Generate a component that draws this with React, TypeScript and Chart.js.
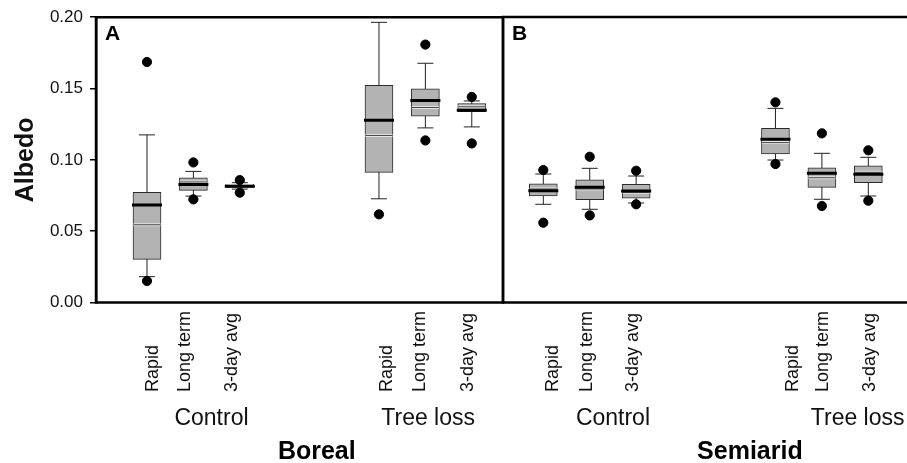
import React, { useEffect, useRef } from 'react';
import { Chart, registerables } from 'chart.js';

Chart.register(...registerables);

const FONT = '"Liberation Sans", Arial, Helvetica, sans-serif';

// ---------- categories & labels ----------
const methods = ['Rapid', 'Long term', '3-day avg'];
const treatments = ['Control', 'Tree loss'];
const sites = ['Boreal', 'Semiarid'];
const panelLetters = ['A', 'B'];
const yTitle = 'Albedo';
const yMin = 0;
const yMax = 0.2;
const yStep = 0.05;

// order of boxes in each panel: Control(Rapid, Long term, 3-day avg), Tree loss(Rapid, Long term, 3-day avg)
// ---------- Boreal (panel A) ----------
const borealOutlierLow = [0.0151, 0.0723, 0.0770, 0.0618, 0.1136, 0.1115];
const borealWhiskerLow = [0.0181, 0.0746, 0.0795, 0.0727, 0.1224, 0.1231];
const borealQ1 = [0.0302, 0.0786, 0.0806, 0.0912, 0.1306, 0.1338];
const borealMedian = [0.0683, 0.0828, 0.0815, 0.1278, 0.1416, 0.1347];
const borealMean = [0.0545, 0.0845, 0.0820, 0.1171, 0.1367, 0.1372];
const borealQ3 = [0.0772, 0.0874, 0.0828, 0.1523, 0.1497, 0.1395];
const borealWhiskerHigh = [0.1175, 0.0919, 0.0840, 0.1964, 0.1677, 0.1413];
const borealOutlierHigh = [0.1686, 0.0982, 0.0858, null, 0.1808, 0.1441];

// ---------- Semiarid (panel B) ----------
const semiaridOutlierLow = [0.0559, 0.0610, 0.0688, 0.0970, 0.0676, 0.0713];
const semiaridWhiskerLow = [0.0688, 0.0653, 0.0697, 0.0998, 0.0723, 0.0746];
const semiaridQ1 = [0.0746, 0.0720, 0.0730, 0.1040, 0.0807, 0.0839];
const semiaridMedian = [0.0783, 0.0807, 0.0781, 0.1143, 0.0905, 0.0898];
const semiaridMean = [0.0795, 0.0795, 0.0772, 0.1120, 0.0874, 0.0912];
const semiaridQ3 = [0.0832, 0.0860, 0.0828, 0.1220, 0.0944, 0.0958];
const semiaridWhiskerHigh = [0.0900, 0.0940, 0.0886, 0.1360, 0.1045, 0.1017];
const semiaridOutlierHigh = [0.0928, 0.1021, 0.0923, 0.1402, 0.1185, 0.1066];

type Stats = {
  oLow: (number | null)[];
  wLow: number[];
  q1: number[];
  med: number[];
  mean: number[];
  q3: number[];
  wHigh: number[];
  oHigh: (number | null)[];
};

const borealStats: Stats = {
  oLow: borealOutlierLow, wLow: borealWhiskerLow, q1: borealQ1, med: borealMedian,
  mean: borealMean, q3: borealQ3, wHigh: borealWhiskerHigh, oHigh: borealOutlierHigh,
};
const semiaridStats: Stats = {
  oLow: semiaridOutlierLow, wLow: semiaridWhiskerLow, q1: semiaridQ1, med: semiaridMedian,
  mean: semiaridMean, q3: semiaridQ3, wHigh: semiaridWhiskerHigh, oHigh: semiaridOutlierHigh,
};

// slot on the x axis for box i (two groups of three, two empty slots between groups)
const slotOf = (i: number) => Math.floor(i / methods.length) * (methods.length + 2) + (i % methods.length) + 1;

// ---------- layout (not data) ----------
const panelLayouts = [
  {
    canvasLeft: 0, width: 506, padLeft: 0, padRight: 3, xMin: -0.099, xMax: 8.673, showY: true, closed: true,
    tickAt: [1.13, 1.82, 2.83, 6.17, 6.89, 7.93], groupAt: [2.39, 7.06], siteAt: 4.66,
  },
  {
    canvasLeft: 490, width: 417, padLeft: 13, padRight: 0, xMin: 0.132, xMax: 8.833, showY: false, closed: false,
    tickAt: [1.22, 1.95, 2.94, 6.37, 7.03, 8.04], groupAt: [2.5, 7.77], siteAt: 5.45,
  },
];

const panelTextPlugin = {
  id: 'panelText',
  afterDraw(chart: any, _args: any, opts: any) {
    const { ctx, chartArea: ca, scales } = chart;
    const xs = scales.x;
    ctx.save();
    ctx.strokeStyle = '#000';
    ctx.lineWidth = 2.5;
    ctx.beginPath();
    if (opts.closed) {
      ctx.rect(ca.left, ca.top, ca.right - ca.left, ca.bottom - ca.top);
    } else {
      ctx.moveTo(ca.right + 5, ca.top);
      ctx.lineTo(ca.left, ca.top);
      ctx.lineTo(ca.left, ca.bottom);
      ctx.lineTo(ca.right + 5, ca.bottom);
    }
    ctx.stroke();

    ctx.fillStyle = '#000';
    ctx.font = `bold 21px ${FONT}`;
    ctx.textAlign = 'left';
    ctx.textBaseline = 'alphabetic';
    ctx.fillText(opts.letter, ca.left + 9, ca.top + 23);

    ctx.fillStyle = '#111';
    ctx.font = `18px ${FONT}`;
    opts.tickLabels.forEach((t: string, k: number) => {
      const px = xs.getPixelForValue(opts.tickAt[k]);
      ctx.save();
      ctx.translate(px, 392);
      ctx.rotate(-Math.PI / 2);
      ctx.textAlign = 'left';
      ctx.textBaseline = 'middle';
      ctx.fillText(t, 0, 0);
      ctx.restore();
    });

    ctx.font = `23px ${FONT}`;
    ctx.textAlign = 'center';
    ctx.textBaseline = 'alphabetic';
    opts.groupLabels.forEach((g: string, k: number) => {
      ctx.fillText(g, xs.getPixelForValue(opts.groupAt[k]), 425);
    });

    ctx.fillStyle = '#000';
    ctx.font = `bold 25px ${FONT}`;
    ctx.fillText(opts.site, xs.getPixelForValue(opts.siteAt), 459);
    ctx.restore();
  },
};

function makeDatasets(s: Stats) {
  const n = s.q1.length;
  const idx = Array.from({ length: n }, (_, i) => i);
  const whisker: any[] = [];
  idx.forEach((i) => {
    whisker.push({ x: slotOf(i), y: s.wLow[i] });
    whisker.push({ x: slotOf(i), y: s.wHigh[i] });
    whisker.push({ x: slotOf(i), y: null });
  });
  const caps: any[] = [];
  idx.forEach((i) => {
    caps.push({ x: slotOf(i), y: s.wLow[i] });
    caps.push({ x: slotOf(i), y: s.wHigh[i] });
  });
  const outliers: any[] = [];
  idx.forEach((i) => {
    if (s.oLow[i] != null) outliers.push({ x: slotOf(i), y: s.oLow[i] });
    if (s.oHigh[i] != null) outliers.push({ x: slotOf(i), y: s.oHigh[i] });
  });
  return [
    {
      type: 'scatter', label: 'whisker', data: whisker, showLine: true, spanGaps: false,
      borderColor: '#222', borderWidth: 1, pointRadius: 0, order: 10,
    },
    {
      type: 'bar', label: 'box', data: idx.map((i) => ({ x: slotOf(i), y: [s.q1[i], s.q3[i]] })),
      backgroundColor: '#b3b3b3', borderColor: '#2a2a2a', borderWidth: 1, borderSkipped: false,
      barThickness: 28, grouped: false, order: 9,
    },
    {
      type: 'scatter', label: 'caps', data: caps, pointStyle: 'line', pointRadius: 8,
      pointBorderColor: '#222', pointBorderWidth: 1, order: 8,
    },
    {
      type: 'scatter', label: 'meanHalo', data: idx.map((i) => ({ x: slotOf(i), y: s.mean[i] })),
      pointStyle: 'line', pointRadius: 13.5, pointBorderColor: 'rgba(235,235,235,0.9)', pointBorderWidth: 3, order: 7,
    },
    {
      type: 'scatter', label: 'mean', data: idx.map((i) => ({ x: slotOf(i), y: s.mean[i] })),
      pointStyle: 'line', pointRadius: 13.5, pointBorderColor: '#444', pointBorderWidth: 1, order: 6,
    },
    {
      type: 'scatter', label: 'median', data: idx.map((i) => ({ x: slotOf(i), y: s.med[i] })),
      pointStyle: 'line', pointRadius: 15, pointBorderColor: '#000', pointBorderWidth: 3, order: 5,
    },
    {
      type: 'scatter', label: 'outliers', data: outliers, pointStyle: 'circle', pointRadius: 4.6,
      pointBackgroundColor: '#000', pointBorderColor: '#000', pointBorderWidth: 1, order: 1,
    },
  ];
}

function makeConfig(k: number): any {
  const lay = panelLayouts[k];
  const stats = k === 0 ? borealStats : semiaridStats;
  const tickLabels = [...methods, ...methods];
  return {
    type: 'scatter',
    data: { datasets: makeDatasets(stats) },
    plugins: [panelTextPlugin],
    options: {
      animation: false,
      responsive: false,
      events: [],
      layout: { autoPadding: false, padding: { left: lay.padLeft, right: lay.padRight, top: 17, bottom: 160.5 } },
      plugins: {
        legend: { display: false },
        tooltip: { enabled: false },
        panelText: {
          letter: panelLetters[k], site: sites[k], closed: lay.closed,
          tickLabels, tickAt: lay.tickAt, groupLabels: treatments, groupAt: lay.groupAt, siteAt: lay.siteAt,
        },
      },
      scales: {
        x: {
          type: 'linear', min: lay.xMin, max: lay.xMax, display: false, offset: false,
          grid: { display: false },
        },
        y: {
          type: 'linear', min: yMin, max: yMax, display: lay.showY, position: 'left',
          afterFit: (sc: any) => { sc.width = lay.showY ? 96 : 0; },
          ticks: {
            stepSize: yStep, color: '#111', padding: 7,
            font: { family: FONT, size: 17 },
            callback: (v: any) => Number(v).toFixed(2),
          },
          grid: { display: true, drawOnChartArea: false, drawTicks: true, tickLength: 6, color: '#000', lineWidth: 1.5 },
          border: { display: true, color: '#000', width: 2.5 },
          title: {
            display: true, text: yTitle, color: '#111',
            font: { family: FONT, size: 25, weight: 'bold' },
            padding: { top: 11, bottom: 0 },
          },
        },
      },
    },
  };
}

export default function App() {
  const refA = useRef<HTMLCanvasElement | null>(null);
  const refB = useRef<HTMLCanvasElement | null>(null);

  useEffect(() => {
    const charts: Chart[] = [];
    if (refA.current) charts.push(new Chart(refA.current, makeConfig(0)));
    if (refB.current) charts.push(new Chart(refB.current, makeConfig(1)));
    return () => charts.forEach((c) => c.destroy());
  }, []);

  return (
    <div style={{ position: 'fixed', left: 0, top: 0, width: 907, height: 463, background: '#fff', overflow: 'hidden' }}>
      <canvas ref={refA} width={panelLayouts[0].width} height={463}
        style={{ position: 'absolute', left: panelLayouts[0].canvasLeft, top: 0, width: panelLayouts[0].width, height: 463 }} />
      <canvas ref={refB} width={panelLayouts[1].width} height={463}
        style={{ position: 'absolute', left: panelLayouts[1].canvasLeft, top: 0, width: panelLayouts[1].width, height: 463 }} />
    </div>
  );
}
